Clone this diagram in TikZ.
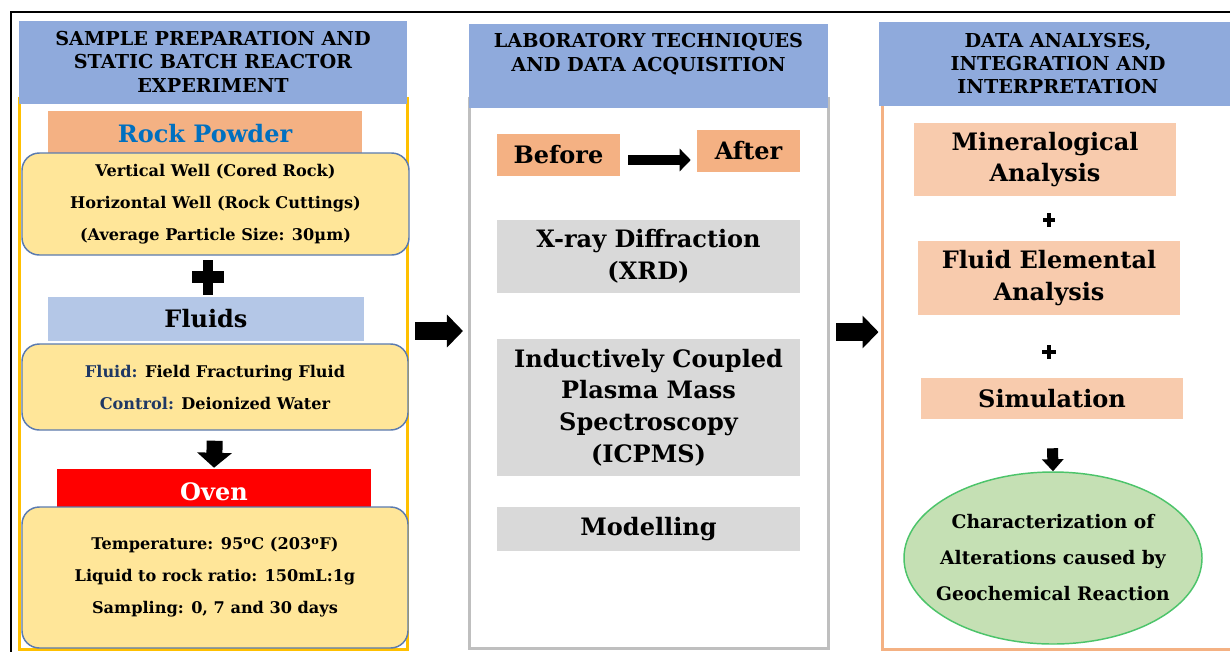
\documentclass[tikz,border=0pt]{standalone}
\usepackage{fontspec}
\setmainfont{DejaVu Serif}
\usetikzlibrary{shapes.geometric,arrows.meta}
\definecolor{hdrblue}{HTML}{8FAADC}
\definecolor{rockor}{HTML}{F4B183}
\definecolor{yfill}{HTML}{FFE699}
\definecolor{yborder}{HTML}{5B7BB0}
\definecolor{fluidblue}{HTML}{B4C7E7}
\definecolor{gbox}{HTML}{D9D9D9}
\definecolor{pbox}{HTML}{F8CBAD}
\definecolor{efill}{HTML}{C5E0B4}
\definecolor{eborder}{HTML}{4CC46A}
\definecolor{pone}{HTML}{FFC000}
\definecolor{ptwo}{HTML}{BFBFBF}
\definecolor{pthree}{HTML}{F4B183}
\definecolor{dkblue}{HTML}{1F3864}
\definecolor{rockblue}{HTML}{0070C0}
\newcommand\fhead{\fontsize{14.4}{17.6}\selectfont}
\newcommand\fsmall{\fontsize{12.1}{24}\selectfont}
\newcommand\fbig{\fontsize{18}{23.8}\selectfont}
\newcommand\fell{\fontsize{14}{27}\selectfont}
\begin{document}
\begin{tikzpicture}[x=0.75pt,y=-0.75pt,
  every node/.style={font=\bfseries},
  box/.style={rectangle, inner sep=0pt, align=center},
  panel/.style={box, line width=2.25pt, fill=white},
  hdr/.style={box, fill=hdrblue},
  ybox/.style={box, rounded corners=13pt, fill=yfill, draw=yborder, line width=1.1pt, font=\bfseries\fsmall},
  bigtext/.style={box, font=\bfseries\fbig},
  htext/.style={align=center, inner sep=0pt, font=\bfseries\fhead},
  bigarrow/.style={line width=13.5pt, -{Triangle[length=12pt,width=24pt]}},
  downarrow/.style={line width=12pt, -{Triangle[length=11.25pt,width=25.5pt]}},
  smallarrow/.style={line width=8.25pt, -{Triangle[length=9pt,width=15.75pt]}},
  baarrow/.style={line width=7.5pt, -{Triangle[length=8.25pt,width=16.5pt]}},
  plusbar/.style={line width=#1}
]
\useasboundingbox (0,0) rectangle (1230,651);
\clip (0,0) rectangle (1230,651);
\fill[white] (0,0) rectangle (1230,651);
% outer frame
\draw[line width=1.9pt] (11,670) -- (11,12) -- (1250,12);

% ---------- Panel 1 ----------
\node[panel, draw=pone, minimum width=291pt, minimum height=413.25pt] (p1) at (213,373.5) {};
\node[hdr, minimum width=291pt, minimum height=62.25pt] (h1) at (213,62.5) {};
\node[htext] (h1t) at (213,61.5) {SAMPLE PREPARATION AND\\STATIC BATCH REACTOR\\EXPERIMENT};
\node[bigtext, fill=rockor, text=rockblue, minimum width=235.5pt, minimum height=33.75pt] (rock) at (205,133.5) {Rock Powder};
\node[ybox, minimum width=290.25pt, minimum height=76.5pt] (yb1) at (215.5,204) {Vertical Well (Cored Rock)\\Horizontal Well (Rock Cuttings)\\(Average Particle Size: 30µm)};
\draw[plusbar=7.5pt] (208,260) -- (208,295);
\draw[plusbar=9pt] (192,277) -- (224,277);
\node[bigtext, fill=fluidblue, minimum width=237pt, minimum height=33pt] (fluids) at (206,319) {Fluids};
\node[ybox, minimum width=289.5pt, minimum height=64.5pt] (yb2) at (215,387) {\textcolor{dkblue}{Fluid:} Field Fracturing Fluid\\\textcolor{dkblue}{Control:} Deionized Water};
\node[bigtext, fill=red, text=white, minimum width=235.5pt, minimum height=34.5pt] (oven) at (214,492) {Oven};
\node[ybox, minimum width=289.5pt, minimum height=105.75pt] (yb3) at (215,577.5) {Temperature: 95\textsuperscript{o}C (203\textsuperscript{o}F)\\Liquid to rock ratio: 150mL:1g\\Sampling: 0, 7 and 30 days};
\draw[downarrow, shorten <=7.5pt, shorten >=0.75pt] (yb2.south) -- (oven.north);

% ---------- Panel 2 ----------
\node[panel, draw=ptwo, minimum width=269.25pt, minimum height=412.5pt] (p2) at (648.5,373) {};
\node[hdr, minimum width=269.25pt, minimum height=63pt] (h2) at (648.5,66) {};
\node[htext] (h2t) at (648.5,54) {LABORATORY TECHNIQUES\\AND DATA ACQUISITION};
\node[bigtext, fill=rockor, minimum width=92.25pt, minimum height=31.5pt] (before) at (558.5,155) {Before};
\node[bigtext, fill=rockor, minimum width=77.25pt, minimum height=31.5pt] (after) at (748.5,151) {After};
\coordinate (bay) at (0,160);
\draw[baarrow, shorten <=6pt, shorten >=4.5pt] (before.east |- bay) -- (after.west |- bay);
\node[bigtext, fill=gbox, minimum width=227.25pt, minimum height=54.75pt] (xrd) at (648.5,256.5) {X-ray Diffraction\\(XRD)};
\node[bigtext, fill=gbox, minimum width=227.25pt, minimum height=102.75pt] (icp) at (648.5,407.5) {Inductively Coupled\\Plasma Mass\\Spectroscopy\\(ICPMS)};
\node[bigtext, fill=gbox, minimum width=227.25pt, minimum height=33pt] (model) at (648.5,529) {Modelling};

% ---------- Panel 3 ----------
\node[panel, draw=pthree, minimum width=265.5pt, minimum height=413.25pt] (p3) at (1059,373.5) {};
\node[hdr, minimum width=269.25pt, minimum height=63pt] (h3) at (1058.5,64) {};
\node[htext] (h3t) at (1058,63.5) {DATA ANALYSES,\\INTEGRATION AND\\INTERPRETATION};
\node[bigtext, fill=pbox, minimum width=196.5pt, minimum height=54.75pt] (mineral) at (1045,159.5) {Mineralogical\\Analysis};
\draw[plusbar=3pt] (1049,213) -- (1049,227);
\draw[plusbar=3.5pt] (1043,220) -- (1055,220);
\node[bigtext, fill=pbox, minimum width=196.5pt, minimum height=55.5pt] (fluidel) at (1049,278) {Fluid Elemental\\Analysis};
\draw[plusbar=3pt] (1049,345) -- (1049,359);
\draw[plusbar=3.5pt] (1042,352) -- (1056,352);
\node[bigtext, fill=pbox, minimum width=196.5pt, minimum height=30.75pt] (sim) at (1052,398.5) {Simulation};
\node[ellipse, draw=eborder, fill=efill, line width=1.1pt, inner xsep=-12pt, inner ysep=0pt, minimum width=223.5pt, minimum height=129pt, align=center, font=\bfseries\fell] (ell) at (1053,558) {Characterization of\\Alterations caused by\\Geochemical Reaction};
\draw[smallarrow, shorten <=21.75pt] (sim.south) -- (ell.north);

% ---------- Between panels ----------
\coordinate (a1y) at (0,331);
\coordinate (a2y) at (0,332);
\draw[bigarrow, shorten <=5pt, shorten >=3.4pt] (p1.east |- a1y) -- (p2.west |- a1y);
\draw[bigarrow, shorten <=5pt, shorten >=1.5pt] (p2.east |- a2y) -- (p3.west |- a2y);
\end{tikzpicture}
\end{document}
